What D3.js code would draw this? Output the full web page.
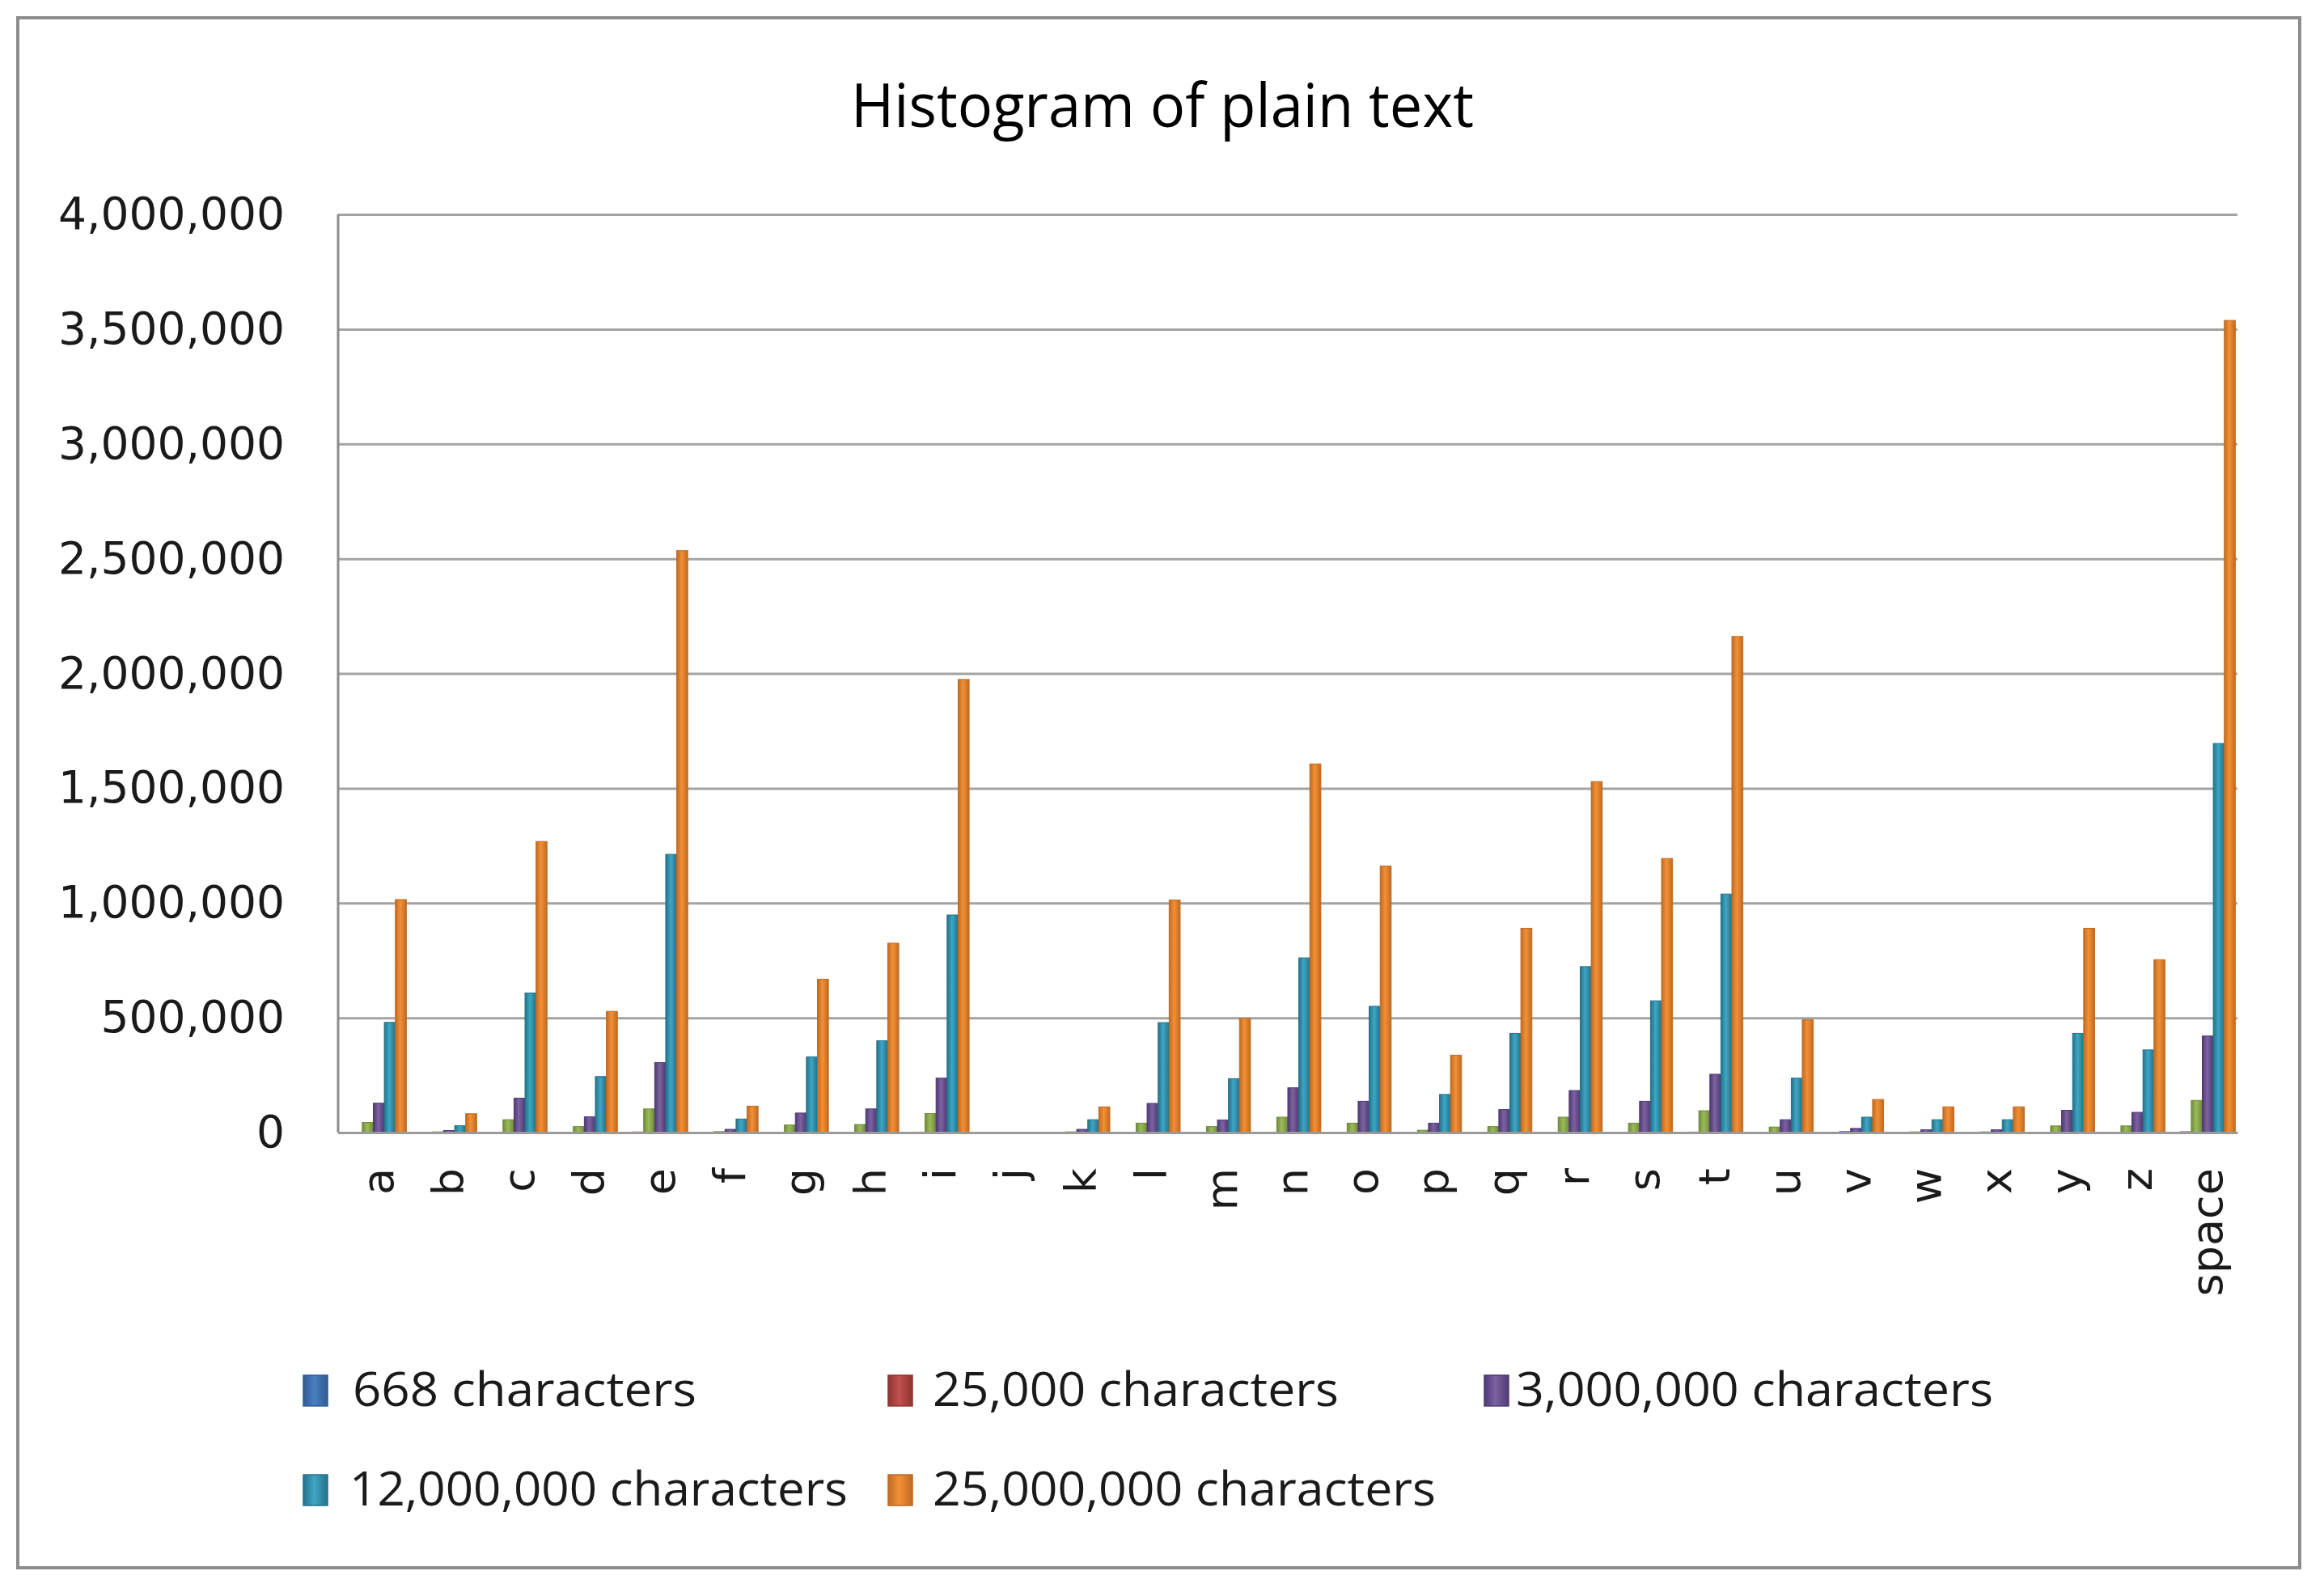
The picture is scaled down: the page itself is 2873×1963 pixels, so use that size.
<!DOCTYPE html>
<html>
<head>
<meta charset="utf-8">
<script src="https://cdn.jsdelivr.net/npm/d3@7"></script>
<style>
  body { margin: 0; background: #fff; }
  svg { display: block; }
</style>
</head>
<body>
<svg id="chart"></svg>
<script>
// categories on the x axis
const categories = ['a','b','c','d','e','f','g','h','i','j','k','l','m','n','o','p','q','r','s','t','u','v','w','x','y','z','space'];

// series values (character counts)
const chars668 = [45, 8, 20, 17, 60, 7, 15, 22, 52, 0, 6, 31, 13, 38, 29, 10, 28, 35, 31, 54, 10, 5, 4, 3, 22, 19, 99];
const chars25k = [1020, 90, 1260, 530, 2540, 120, 660, 820, 1970, 0, 110, 1010, 500, 1600, 1160, 340, 890, 1530, 1190, 2160, 490, 140, 110, 110, 890, 750, 3540];
const chars1m  = [44000, 3000, 56000, 26000, 103000, 4000, 33000, 35000, 83000, 0, 3000, 41000, 26000, 67000, 41000, 10000, 26000, 67000, 41000, 95000, 24000, 5000, 3000, 3000, 29000, 29000, 140000];
const chars3m  = [128000, 9000, 150000, 69000, 305000, 14000, 85000, 103000, 237000, 0, 14000, 127000, 55000, 195000, 136000, 41000, 100000, 183000, 136000, 254000, 56000, 18000, 12000, 12000, 97000, 88000, 421000];
const chars12m = [480000, 30000, 608000, 244000, 1212000, 59000, 330000, 400000, 948000, 0, 56000, 479000, 235000, 761000, 550000, 166000, 432000, 723000, 574000, 1039000, 237000, 67000, 56000, 56000, 432000, 360000, 1695000];
const chars25m = [1015000, 82000, 1268000, 528000, 2535000, 115000, 668000, 825000, 1974000, 0, 112000, 1013000, 497000, 1606000, 1161000, 337000, 890000, 1529000, 1194000, 2161000, 491000, 144000, 112000, 112000, 890000, 753000, 3538000];

const seriesValues = [chars668, chars25k, chars1m, chars3m, chars12m, chars25m];
// legend of the original lists five of the six series (the green one has no entry)
const legendSeries = [0, 1, 3, 4, 5];
const legendLabels = ['668 characters', '25,000 characters', '3,000,000 characters', '12,000,000 characters', '25,000,000 characters'];

const yTicks = [0, 500000, 1000000, 1500000, 2000000, 2500000, 3000000, 3500000, 4000000];

const width = 2873, height = 1963;
const plot = { left: 418, right: 2766, top: 265, bottom: 1400 };

// bar colours: [edge, centre]
const barColors = [
  ['#2f5c94', '#4a7fc0'],
  ['#8e3532', '#c0504d'],
  ['#6f8a3a', '#9bbb59'],
  ['#4e3a73', '#7e62a3'],
  ['#23728a', '#3fa6c4'],
  ['#bf6a22', '#f39036']
];

const svg = d3.select('#chart')
  .attr('width', width)
  .attr('height', height)
  .style('background', '#fff');

// outer chart border
svg.append('rect')
  .attr('x', 22).attr('y', 22)
  .attr('width', 2821).attr('height', 1916)
  .attr('fill', '#fff')
  .attr('stroke', '#8c8c8c')
  .attr('stroke-width', 4);

// gradients for the bars
const defs = svg.append('defs');
barColors.forEach((c, i) => {
  const g = defs.append('linearGradient')
    .attr('id', 'bar' + i)
    .attr('x1', '0%').attr('y1', '0%')
    .attr('x2', '100%').attr('y2', '0%');
  g.append('stop').attr('offset', '0%').attr('stop-color', c[0]);
  g.append('stop').attr('offset', '45%').attr('stop-color', c[1]);
  g.append('stop').attr('offset', '100%').attr('stop-color', c[0]);
});

// title
svg.append('text')
  .attr('x', 1437)
  .attr('y', 157)
  .attr('text-anchor', 'middle')
  .attr('font-family', '"Open Sans", sans-serif')
  .attr('font-size', 75)
  .attr('textLength', 770)
  .attr('lengthAdjust', 'spacingAndGlyphs')
  .attr('fill', '#000')
  .text('Histogram of plain text');

// scales
const x0 = d3.scaleBand()
  .domain(categories)
  .range([plot.left, plot.right])
  .paddingInner(0.06)
  .paddingOuter(0.03);

const x1 = d3.scaleBand()
  .domain(d3.range(seriesValues.length))
  .range([0, x0.bandwidth()]);

const y = d3.scaleLinear()
  .domain([0, 4000000])
  .range([plot.bottom, plot.top]);

// y axis with gridlines
const yAxis = svg.append('g')
  .attr('transform', `translate(${plot.left},0)`)
  .call(d3.axisLeft(y)
    .tickValues(yTicks)
    .tickFormat(d3.format(','))
    .tickSize(-(plot.right - plot.left))
    .tickPadding(66));

yAxis.select('.domain').remove();
yAxis.selectAll('.tick line')
  .attr('stroke', '#a3a3a3')
  .attr('stroke-width', 3);
yAxis.selectAll('.tick text')
  .attr('font-family', '"DejaVu Sans", sans-serif')
  .attr('font-size', 55)
  .attr('fill', '#1a1a1a');

// bars
const groups = svg.append('g')
  .selectAll('g')
  .data(categories)
  .join('g')
  .attr('transform', d => `translate(${x0(d)},0)`);

groups.selectAll('rect')
  .data((d, ci) => seriesValues.map((vals, si) => ({ si, v: vals[ci] })))
  .join('rect')
  .attr('x', d => x1(d.si))
  .attr('y', d => y(d.v))
  .attr('width', x1.bandwidth())
  .attr('height', d => plot.bottom - y(d.v))
  .attr('fill', d => `url(#bar${d.si})`)
  .attr('stroke', d => barColors[d.si][0])
  .attr('stroke-width', 1);

// left axis line
svg.append('line')
  .attr('x1', plot.left).attr('x2', plot.left)
  .attr('y1', plot.top).attr('y2', plot.bottom)
  .attr('stroke', '#8c8c8c')
  .attr('stroke-width', 3);

// x axis
const xAxis = svg.append('g')
  .attr('transform', `translate(0,${plot.bottom})`)
  .call(d3.axisBottom(x0).tickSize(0).tickPadding(0));

xAxis.select('.domain')
  .attr('stroke', '#9a9a9a')
  .attr('stroke-width', 3);

xAxis.selectAll('.tick text')
  .attr('font-family', '"DejaVu Sans", sans-serif')
  .attr('font-size', 54)
  .attr('fill', '#1a1a1a')
  .attr('text-anchor', 'end')
  .attr('transform', 'rotate(-90)')
  .attr('x', -44)
  .attr('y', 0)
  .attr('dy', '0.45em');

// legend
const legendCols = [375, 1098, 1835];
const legendTextX = [[436, 1153, 1874], [432, 1153]];
const legendTextLen = [425, 502, 590, 616, 622];
const legendPos = [[0, 0], [1, 0], [2, 0], [0, 1], [1, 1]];
const legendRowY = [1700, 1823];

const legend = svg.append('g')
  .selectAll('g')
  .data(legendSeries)
  .join('g');

legend.append('rect')
  .attr('x', (d, i) => legendCols[legendPos[i][0]])
  .attr('y', (d, i) => legendRowY[legendPos[i][1]])
  .attr('width', 30)
  .attr('height', 38)
  .attr('fill', d => `url(#bar${d})`)
  .attr('stroke', d => barColors[d][0])
  .attr('stroke-width', 1.5);

legend.append('text')
  .attr('x', (d, i) => legendTextX[legendPos[i][1]][legendPos[i][0]])
  .attr('y', (d, i) => legendRowY[legendPos[i][1]] + 38)
  .attr('font-family', '"Open Sans", sans-serif')
  .attr('font-size', 58)
  .attr('textLength', (d, i) => legendTextLen[i])
  .attr('lengthAdjust', 'spacingAndGlyphs')
  .attr('fill', '#1a1a1a')
  .text((d, i) => legendLabels[i]);
</script>
</body>
</html>
